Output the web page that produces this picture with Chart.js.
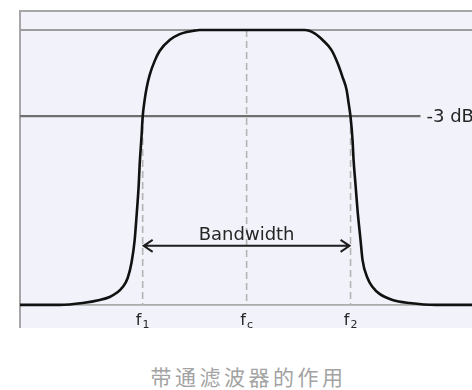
<!DOCTYPE html>
<html>
<head>
<meta charset="utf-8">
<script src="https://cdn.jsdelivr.net/npm/chart.js@4.4.1/dist/chart.umd.min.js"></script>
<style>
    html, body { margin: 0; padding: 0; background: #fff; }
    body { width: 472px; height: 390px; overflow: hidden; position: relative; }
    #wrap { position: absolute; left: 0; top: 0; width: 520px; height: 340px; }
    #caption {
        position: absolute; left: 0; top: 361px; width: 497px;
        text-align: center; color: #a3a3a3;
        font-family: "Noto Sans CJK SC", sans-serif; font-size: 21px; letter-spacing: 3.5px;
    }
</style>
</head>
<body>
<div id="wrap"><canvas id="bandpass-chart" width="520" height="340"></canvas></div>
<div id="caption">带通滤波器的作用</div>
<script>
// normalised frequency (f1 = -1, fc = 0, f2 = 1) and relative gain
const freq = [-2.18, -1.80, -1.577, -1.413, -1.317, -1.25, -1.192, -1.144, -1.106, -1.077, -1.058, -1.038, -1.029, -1.01, -1.0,
    -0.981, -0.962, -0.933, -0.885, -0.837, -0.74, -0.644, -0.577, -0.5, -0.452,
    0.558, 0.654, 0.731, 0.817, 0.875, 0.923, 0.962, 0.981, 1.0, 1.019, 1.029, 1.048, 1.067, 1.096, 1.115,
    1.163, 1.212, 1.279, 1.404, 1.567, 1.817, 2.63];
const gain = [0, 0, 0.007, 0.018, 0.029, 0.044, 0.065, 0.098, 0.156, 0.236, 0.327, 0.436, 0.509, 0.618, 0.684,
    0.745, 0.789, 0.836, 0.887, 0.924, 0.964, 0.985, 0.993, 0.998, 1.0,
    1.0, 0.988, 0.964, 0.927, 0.88, 0.829, 0.782, 0.735, 0.684, 0.6, 0.527, 0.436, 0.345, 0.236, 0.164,
    0.098, 0.065, 0.04, 0.018, 0.007, 0, 0];

const markerFreqs = [-1, 0, 1];
const markerTops = [0.687, 1, 0.687];
const markerNames = ['f', 'f', 'f'];
const markerSubs = ['1', 'c', '2'];

const passLevel = 1;
const cutoffLevel = 0.687;
const cutoffEnd = 1.673;
const cutoffLabel = '-3 dB';
const floorLevel = 0;
const arrowLevel = 0.215;
const bandwidthLabel = 'Bandwidth';

const xMin = -2.18, xMax = 2.63;
const yMin = -0.084, yMax = 1.073;

function levelLine(y, x0, x1, color, width) {
    return {
        data: [{ x: x0, y: y }, { x: x1, y: y }],
        borderColor: color,
        borderWidth: width,
        pointRadius: 0
    };
}

const datasets = [{
    data: freq.map((f, i) => ({ x: f, y: gain[i] })),
    borderColor: '#111',
    borderWidth: 2.6,
    pointRadius: 0,
    cubicInterpolationMode: 'monotone'
}];
markerFreqs.forEach((f, i) => {
    datasets.push({
        data: [{ x: f, y: markerTops[i] }, { x: f, y: floorLevel }],
        borderColor: '#b4b4b4',
        borderWidth: 1.6,
        borderDash: [7, 4],
        pointRadius: 0
    });
});
datasets.push(levelLine(passLevel, xMin, xMax, '#9c9c9c', 2));
datasets.push(levelLine(cutoffLevel, xMin, cutoffEnd, '#6f6f6f', 2.4));
datasets.push(levelLine(floorLevel, xMin, xMax, '#ababab', 1.6));

const decorations = {
    id: 'decorations',
    beforeDatasetsDraw(chart) {
        const { ctx, chartArea: a } = chart;
        ctx.save();
        ctx.fillStyle = '#f2f3fa';
        ctx.fillRect(a.left, a.top, a.right - a.left, a.bottom - a.top);
        ctx.strokeStyle = '#a6a6a6';
        ctx.lineWidth = 2;
        ctx.beginPath();
        ctx.moveTo(a.left, a.bottom);
        ctx.lineTo(a.left, a.top + 1);
        ctx.lineTo(a.right, a.top + 1);
        ctx.stroke();
        ctx.restore();
    },
    afterDatasetsDraw(chart) {
        const { ctx } = chart;
        const xs = chart.scales.x, ys = chart.scales.y;
        ctx.save();

        // bandwidth arrow
        const ax1 = xs.getPixelForValue(markerFreqs[0]);
        const ax2 = xs.getPixelForValue(markerFreqs[2]);
        const ay = ys.getPixelForValue(arrowLevel);
        ctx.strokeStyle = '#1e1e1e';
        ctx.lineWidth = 2;
        ctx.beginPath();
        ctx.moveTo(ax1 + 1, ay);
        ctx.lineTo(ax2 - 1, ay);
        ctx.moveTo(ax1 + 10, ay - 6);
        ctx.lineTo(ax1 + 1, ay);
        ctx.lineTo(ax1 + 10, ay + 6);
        ctx.moveTo(ax2 - 10, ay - 6);
        ctx.lineTo(ax2 - 1, ay);
        ctx.lineTo(ax2 - 10, ay + 6);
        ctx.stroke();

        ctx.fillStyle = '#262626';
        ctx.font = '18px "DejaVu Sans"';
        ctx.textAlign = 'center';
        ctx.textBaseline = 'alphabetic';
        ctx.fillText(bandwidthLabel, (ax1 + ax2) / 2, ay - 6);

        // -3 dB label
        ctx.textAlign = 'left';
        ctx.textBaseline = 'middle';
        ctx.fillText(cutoffLabel, xs.getPixelForValue(cutoffEnd) + 6, ys.getPixelForValue(cutoffLevel) + 1);

        // tick labels with subscripts
        const base = ys.getPixelForValue(floorLevel) + 20;
        ctx.textBaseline = 'alphabetic';
        markerFreqs.forEach((f, i) => {
            const px = xs.getPixelForValue(f);
            ctx.font = '16px "DejaVu Sans"';
            const w1 = ctx.measureText(markerNames[i]).width;
            ctx.font = '11px "DejaVu Sans"';
            const w2 = ctx.measureText(markerSubs[i]).width;
            const left = px - (w1 + w2 + 1) / 2;
            ctx.font = '16px "DejaVu Sans"';
            ctx.fillText(markerNames[i], left, base);
            ctx.font = '11px "DejaVu Sans"';
            ctx.fillText(markerSubs[i], left + w1 + 1, base + 3);
        });
        ctx.restore();
    }
};

new Chart(document.getElementById('bandpass-chart'), {
    type: 'line',
    data: { datasets: datasets },
    options: {
        responsive: false,
        animation: false,
        layout: { padding: { left: 20, top: 10, right: 0, bottom: 12 } },
        plugins: { legend: { display: false }, tooltip: { enabled: false } },
        scales: {
            x: { type: 'linear', min: xMin, max: xMax, display: false },
            y: { type: 'linear', min: yMin, max: yMax, display: false }
        }
    },
    plugins: [decorations]
});
</script>
</body>
</html>
